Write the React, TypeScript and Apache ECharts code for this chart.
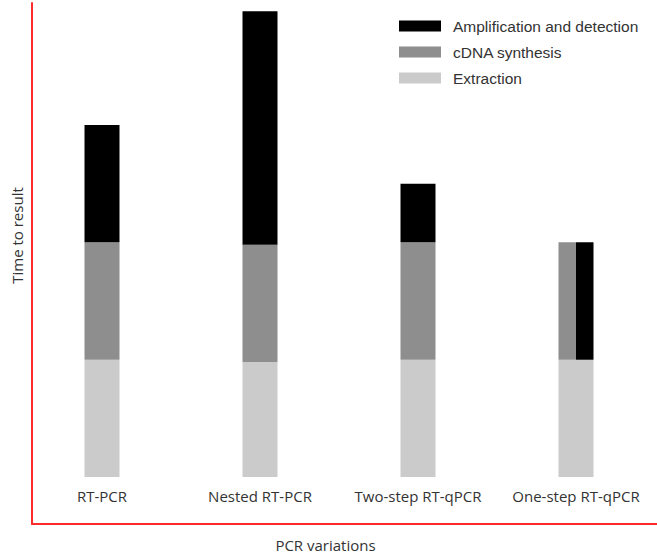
import React, { useEffect, useRef } from "react";
import * as echarts from "echarts";

const categories = ["RT-PCR", "Nested RT-PCR", "Two-step RT-qPCR", "One-step RT-qPCR"];
const extraction = [1.0, 0.98, 1.0, 1.0];
const cdnaSynthesis = [1.0, 1.0, 1.0, 1.0];
const amplification = [1.0, 1.99, 0.5, 1.0];
// One-step RT-qPCR runs cDNA synthesis and amplification concurrently (side by side)
const concurrent = [false, false, false, true];

const seriesNames = ["Amplification and detection", "cDNA synthesis", "Extraction"];
const axisNames = { x: "PCR variations", y: "Time to result" };

export default function App() {
  const ref = useRef<HTMLDivElement>(null);
  useEffect(() => {
    if (!ref.current) return;
    const chart = echarts.init(ref.current, null, { renderer: "svg" });
    const red = "#ff2b2b";
    const colors = { amp: "#000000", cdna: "#8e8e8e", ext: "#cbcbcb" };
    const labelFont = "'Open Sans', sans-serif";
    const seqCdna = cdnaSynthesis.map((v, i) => (concurrent[i] ? "-" : v));
    const seqAmp = amplification.map((v, i) => (concurrent[i] ? "-" : v));
    const parBase = extraction.map((v, i) => (concurrent[i] ? v : "-"));
    const parCdna = cdnaSynthesis.map((v, i) => (concurrent[i] ? v : "-"));
    const parAmp = amplification.map((v, i) => (concurrent[i] ? v : "-"));

    chart.setOption({
      animation: false,
      backgroundColor: "#ffffff",
      legend: {
        data: seriesNames,
        orient: "vertical",
        left: 394,
        top: 13,
        itemWidth: 42,
        itemHeight: 11,
        itemGap: 10,
        icon: "rect",
        selectedMode: false,
        textStyle: {
          fontFamily: "'Liberation Sans', Arial, sans-serif",
          fontSize: 15.5,
          color: "#333333",
          lineHeight: 16,
          padding: [0, 0, 0, 7],
        },
      },
      grid: [
        { left: 23, right: 2, top: 3, bottom: 82 },
        { left: 32, right: 0, top: 3, bottom: 35 },
      ],
      xAxis: [
        {
          type: "category",
          gridIndex: 0,
          data: categories,
          axisLine: { show: false },
          axisTick: { show: false },
          axisLabel: {
            margin: 11,
            fontFamily: labelFont,
            fontSize: 15,
            color: "#333333",
            interval: 0,
          },
        },
        {
          type: "category",
          gridIndex: 0,
          data: categories,
          show: false,
        },
        {
          type: "value",
          gridIndex: 1,
          min: 0,
          max: 1,
          axisLine: { show: true, onZero: false, lineStyle: { color: red, width: 2 } },
          axisTick: { show: false },
          axisLabel: { show: false },
          splitLine: { show: false },
          name: axisNames.x,
          nameLocation: "middle",
          nameGap: 13,
          nameTextStyle: {
            fontFamily: labelFont,
            fontSize: 15,
            color: "#333333",
            padding: [0, 38, 0, 0],
          },
        },
      ],
      yAxis: [
        {
          type: "value",
          gridIndex: 0,
          min: 0,
          max: 4.04,
          show: false,
        },
        {
          type: "value",
          gridIndex: 1,
          min: 0,
          max: 1,
          axisLine: { show: true, onZero: false, lineStyle: { color: red, width: 2 } },
          axisTick: { show: false },
          axisLabel: { show: false },
          splitLine: { show: false },
          name: axisNames.y,
          nameLocation: "middle",
          nameGap: 8,
          nameTextStyle: {
            fontFamily: labelFont,
            fontSize: 15,
            color: "#333333",
            padding: [0, 0, 0, 56],
          },
        },
      ],
      series: [
        {
          name: "Extraction",
          type: "bar",
          xAxisIndex: 0,
          yAxisIndex: 0,
          stack: "seq",
          barWidth: 35,
          itemStyle: { color: colors.ext },
          data: extraction,
        },
        {
          name: "cDNA synthesis",
          type: "bar",
          xAxisIndex: 0,
          yAxisIndex: 0,
          stack: "seq",
          barWidth: 35,
          itemStyle: { color: colors.cdna },
          data: seqCdna,
        },
        {
          name: "Amplification and detection",
          type: "bar",
          xAxisIndex: 0,
          yAxisIndex: 0,
          stack: "seq",
          barWidth: 35,
          itemStyle: { color: colors.amp },
          data: seqAmp,
        },
        {
          name: "base-left",
          type: "bar",
          xAxisIndex: 1,
          yAxisIndex: 0,
          stack: "parL",
          barWidth: 17.5,
          barGap: "0%",
          silent: true,
          itemStyle: { color: "transparent" },
          data: parBase,
        },
        {
          name: "cDNA synthesis",
          type: "bar",
          xAxisIndex: 1,
          yAxisIndex: 0,
          stack: "parL",
          barWidth: 17.5,
          barGap: "0%",
          itemStyle: { color: colors.cdna },
          data: parCdna,
        },
        {
          name: "base-right",
          type: "bar",
          xAxisIndex: 1,
          yAxisIndex: 0,
          stack: "parR",
          barWidth: 17.5,
          barGap: "0%",
          silent: true,
          itemStyle: { color: "transparent" },
          data: parBase,
        },
        {
          name: "Amplification and detection",
          type: "bar",
          xAxisIndex: 1,
          yAxisIndex: 0,
          stack: "parR",
          barWidth: 17.5,
          barGap: "0%",
          itemStyle: { color: colors.amp },
          data: parAmp,
        },
      ],
    });
    return () => chart.dispose();
  }, []);
  return <div ref={ref} style={{ width: 657, height: 559, position: "absolute", left: 0, top: 0 }} />;
}
